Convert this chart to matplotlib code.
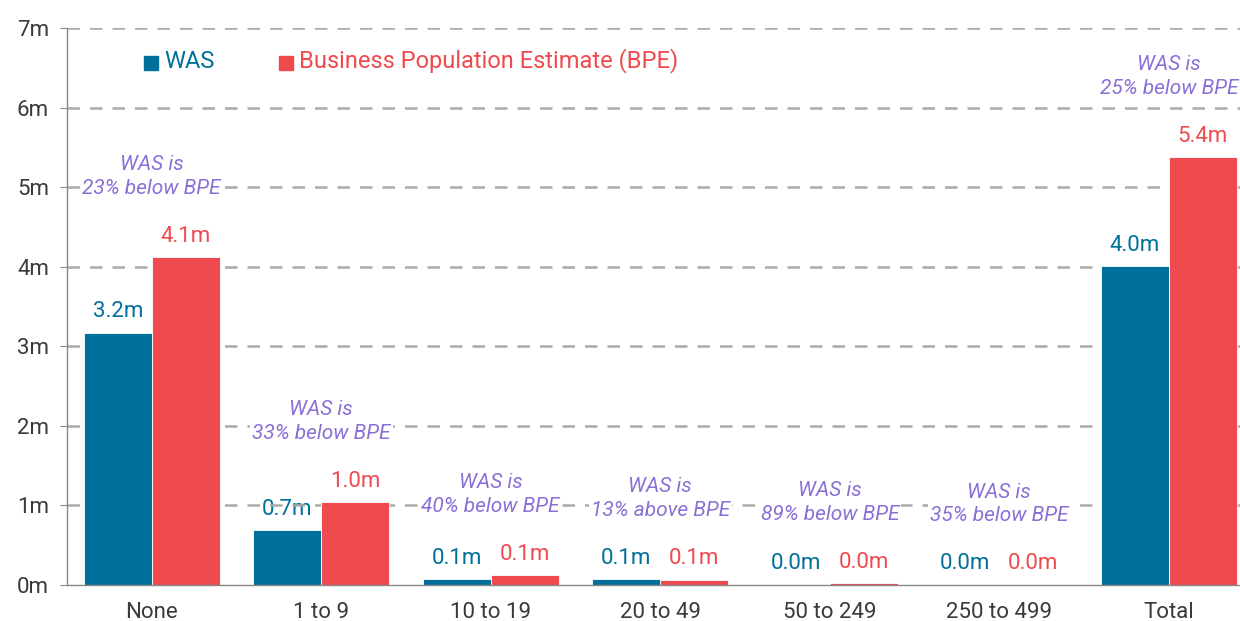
import matplotlib.pyplot as plt
from matplotlib.patches import Rectangle
import numpy as np

plt.rcParams['font.family'] = ['Roboto', 'DejaVu Sans']

# data (millions of businesses)
categories = ['None', '1 to 9', '10 to 19', '20 to 49', '50 to 249', '250 to 499', 'Total']
was = [3.17, 0.69, 0.075, 0.075, 0.003, 0.002, 4.01]
bpe = [4.12, 1.04, 0.125, 0.066, 0.025, 0.003, 5.38]
was_labels = ['3.2m', '0.7m', '0.1m', '0.1m', '0.0m', '0.0m', '4.0m']
bpe_labels = ['4.1m', '1.0m', '0.1m', '0.1m', '0.0m', '0.0m', '5.4m']
diff_notes = ['23% below BPE', '33% below BPE', '40% below BPE', '13% above BPE',
              '89% below BPE', '35% below BPE', '25% below BPE']
yticks = [0, 1, 2, 3, 4, 5, 6, 7]

was_col = '#00709a'
bpe_col = '#ef4b4f'
note_col = '#8a6fd6'
grid_col = '#aaaaaa'
text_col = '#3a3a3a'

fig = plt.figure(figsize=(12.4, 6.21), dpi=100)
ax = fig.add_axes([0.054, 0.058, 0.946, 0.897])

x = np.arange(len(categories))
w = 0.4
ax.bar(x - w / 2, was, w, color=was_col, edgecolor='white', linewidth=0.6, zorder=2)
ax.bar(x + w / 2, bpe, w, color=bpe_col, edgecolor='white', linewidth=0.6, zorder=2)

for i in range(len(categories)):
    ax.annotate(was_labels[i], (x[i] - w / 2, was[i]), xytext=(0, 15), textcoords='offset points',
                ha='center', va='center', color=was_col, fontsize=16, zorder=1)
    ax.annotate(bpe_labels[i], (x[i] + w / 2, bpe[i]), xytext=(0, 15), textcoords='offset points',
                ha='center', va='center', color=bpe_col, fontsize=16, zorder=1)
    top = max(was[i], bpe[i])
    ax.annotate('WAS is\n' + diff_notes[i], (x[i], top), xytext=(0, 58), textcoords='offset points',
                ha='center', va='center', color=note_col, fontsize=15, style='italic',
                linespacing=1.3, zorder=3,
                bbox=dict(boxstyle='square,pad=0.1', facecolor='white', edgecolor='none'))

ax.set_xlim(-0.5, 6.42)
ax.set_ylim(0, 7)
ax.set_yticks(yticks)
ax.set_yticklabels([f'{t}m' for t in yticks])
ax.set_xticks(x)
ax.set_xticklabels(categories)
ax.tick_params(axis='y', length=5, color='#888888', labelsize=16, labelcolor=text_col, pad=8)
ax.tick_params(axis='x', length=0, labelsize=16, labelcolor=text_col, pad=12)

for t in yticks[1:]:
    ax.axhline(t, color=grid_col, linestyle=(0, (5, 4)), linewidth=1.8, zorder=1.5)

for s in ['top', 'right']:
    ax.spines[s].set_visible(False)
ax.spines['left'].set_color('#888888')
ax.spines['bottom'].set_color('#888888')
ax.spines['left'].set_linewidth(1)
ax.spines['bottom'].set_linewidth(1)

# legend drawn as squares + coloured text
fig.patches.append(Rectangle((144 / 1240, 1 - 70 / 621), 14 / 1240, 14 / 621,
                             transform=fig.transFigure, color=was_col))
fig.text(164 / 1240, 1 - 61 / 621, 'WAS', color=was_col, fontsize=17, va='center')
fig.patches.append(Rectangle((279 / 1240, 1 - 70 / 621), 14 / 1240, 14 / 621,
                             transform=fig.transFigure, color=bpe_col))
fig.text(299 / 1240, 1 - 61 / 621, 'Business Population Estimate (BPE)', color=bpe_col,
         fontsize=17, va='center')

fig.savefig('out.png', dpi=100)
